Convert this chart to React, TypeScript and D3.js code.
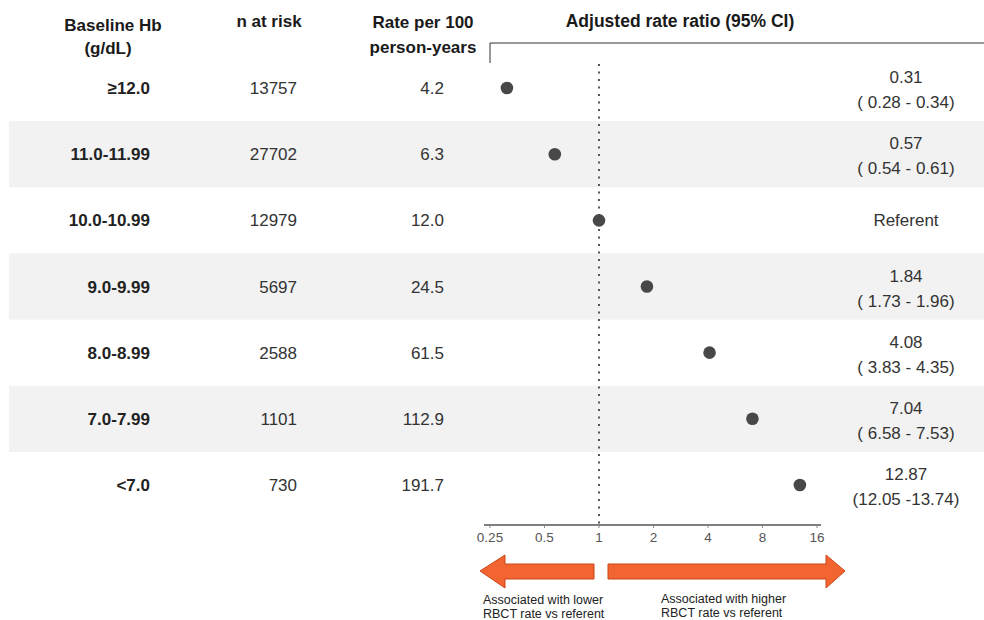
import React from "react";
import * as d3 from "d3";

const categories = ["≥12.0", "11.0-11.99", "10.0-10.99", "9.0-9.99", "8.0-8.99", "7.0-7.99", "<7.0"];
const nAtRisk = ["13757", "27702", "12979", "5697", "2588", "1101", "730"];
const rates = ["4.2", "6.3", "12.0", "24.5", "61.5", "112.9", "191.7"];
const ratios = [0.31, 0.57, 1, 1.84, 4.08, 7.04, 12.87];
const ciLine1 = ["0.31", "0.57", "Referent", "1.84", "4.08", "7.04", "12.87"];
const ciLine2 = ["( 0.28 - 0.34)", "( 0.54 - 0.61)", "", "( 1.73 - 1.96)", "( 3.83 - 4.35)", "( 6.58 - 7.53)", "(12.05 -13.74)"];
const tickValues = [0.25, 0.5, 1, 2, 4, 8, 16];
const tickLabels = ["0.25", "0.5", "1", "2", "4", "8", "16"];

export default function App() {
  const W = 984, H = 620;
  const font = "'Liberation Sans', Arial, Helvetica, sans-serif";
  const x = d3.scaleLog().base(2).domain([0.25, 16]).range([490, 817]);
  const y = d3.scaleBand<number>().domain(d3.range(categories.length)).range([55, 518]).padding(0);
  const bw = y.bandwidth();
  const cy = (i: number) => (y(i) as number) + bw / 2;
  const axisY = 525;
  const x1 = x(1);

  const arrowFill = "#F26430";
  const arrowStroke = "#C9471A";
  const ay = 571;
  const leftArrow = `M480,${ay} L505,${ay - 16} L505,${ay - 7} L594,${ay - 7} L594,${ay + 8} L505,${ay + 8} L505,${ay + 17} Z`;
  const rightArrow = `M608,${ay - 7} L826,${ay - 7} L826,${ay - 16} L845,${ay} L826,${ay + 17} L826,${ay + 8} L608,${ay + 8} Z`;

  return (
    <svg width={W} height={H} style={{ position: "absolute", left: 0, top: 0 }} fontFamily={font}>
      <rect width={W} height={H} fill="#fff" />
      {categories.map((c, i) =>
        i % 2 === 1 ? (
          <rect key={"b" + i} x={9} y={y(i) as number} width={W - 9} height={bw} fill="#f2f2f2" />
        ) : null
      )}
      {/* headers */}
      <g fontWeight="bold" fontSize={17} fill="#1a1a1a" textAnchor="middle">
        <text x={113} y={31}>Baseline Hb</text>
        <text x={108} y={54}>(g/dL)</text>
        <text x={269} y={27}>n at risk</text>
        <text x={423} y={28}>Rate per 100</text>
        <text x={423} y={53}>person-years</text>
        <text x={680} y={27} fontSize={17.5}>Adjusted rate ratio (95% CI)</text>
      </g>
      <path d={`M490,63 L490,43 L984,43`} fill="none" stroke="#333" strokeWidth={1} />
      {/* rows */}
      {categories.map((c, i) => (
        <g key={"r" + i} fontSize={17} fill="#222">
          <text x={150} y={cy(i) + 6} textAnchor="end" fontWeight="bold">{c}</text>
          <text x={297} y={cy(i) + 6} textAnchor="end" fill="#333">{nAtRisk[i]}</text>
          <text x={444} y={cy(i) + 6} textAnchor="end" fill="#333">{rates[i]}</text>
          {ciLine2[i] ? (
            <>
              <text x={906} y={cy(i) - 5} textAnchor="middle" fill="#333">{ciLine1[i]}</text>
              <text x={906} y={cy(i) + 20} textAnchor="middle" fill="#333">{ciLine2[i]}</text>
            </>
          ) : (
            <text x={906} y={cy(i) + 6} textAnchor="middle" fill="#333">{ciLine1[i]}</text>
          )}
        </g>
      ))}
      {/* reference line */}
      <line x1={x1} x2={x1} y1={64} y2={axisY} stroke="#555" strokeWidth={2} strokeDasharray="2,5.5" />
      {/* points */}
      {ratios.map((r, i) => (
        <circle key={"p" + i} cx={x(r)} cy={cy(i)} r={6.3} fill="#484848" />
      ))}
      {/* axis */}
      <line x1={484} x2={821} y1={axisY} y2={axisY} stroke="#555" strokeWidth={1.5} />
      {tickValues.map((t, i) => (
        <g key={"t" + i}>
          <line x1={x(t)} x2={x(t)} y1={axisY} y2={axisY + 3} stroke="#888" />
          <text x={x(t)} y={axisY + 17} textAnchor="middle" fontSize={13.5} fill="#555">{tickLabels[i]}</text>
        </g>
      ))}
      {/* arrows */}
      <path d={leftArrow} fill={arrowFill} stroke={arrowStroke} strokeWidth={1} />
      <path d={rightArrow} fill={arrowFill} stroke={arrowStroke} strokeWidth={1} />
      <g fontSize={12.5} fill="#222">
        <text x={483} y={603.5}>Associated with lower</text>
        <text x={483} y={617.5}>RBCT rate vs referent</text>
        <text x={661} y={602.5}>Associated with higher</text>
        <text x={661} y={616.5}>RBCT rate vs referent</text>
      </g>
    </svg>
  );
}
